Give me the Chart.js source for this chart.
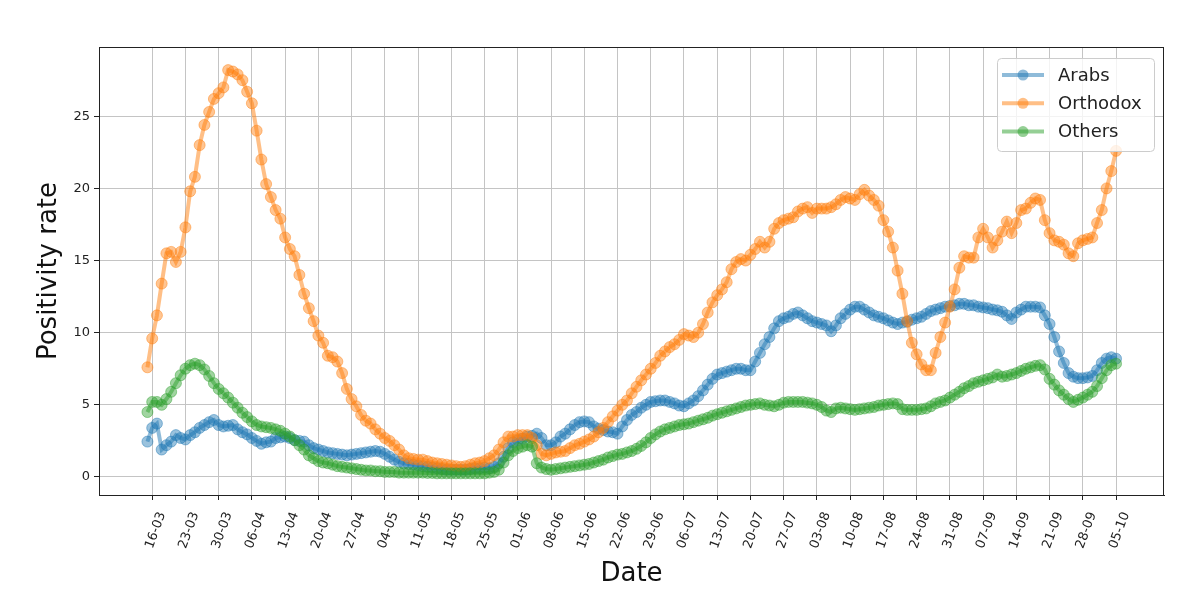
<!DOCTYPE html>
<html>
<head>
<meta charset="utf-8">
<title>Positivity rate</title>
<script src="https://cdn.jsdelivr.net/npm/chart.js@4.4.1/dist/chart.umd.min.js"></script>
<style>
  html, body { margin: 0; padding: 0; background: #fff; }
  #wrap { width: 1200px; height: 609px; position: relative; }
</style>
</head>
<body>
<div id="wrap"><canvas id="chart"></canvas></div>
<script>
// x tick labels, one every 7 days starting at 16-03 (day 0)
const tickLabels = ['16-03', '23-03', '30-03', '06-04', '13-04', '20-04', '27-04', '04-05', '11-05', '18-05',
  '25-05', '01-06', '08-06', '15-06', '22-06', '29-06', '06-07', '13-07', '20-07', '27-07',
  '03-08', '10-08', '17-08', '24-08', '31-08', '07-09', '14-09', '21-09', '28-09', '05-10'];
const yTicks = [0, 5, 10, 15, 20, 25];
const firstDay = -1; // series start on 15-03

// daily values, first value 15-03, then one row per week starting at the tick label
const arabs = [2.45,
  3.4, 3.7, 1.9, 2.2, 2.45, 2.9, 2.7,        // 16-03
  2.6, 2.9, 3.1, 3.4, 3.6, 3.8, 3.95,        // 23-03
  3.6, 3.5, 3.55, 3.6, 3.3, 3.1, 2.95,       // 30-03
  2.7, 2.5, 2.3, 2.4, 2.45, 2.7, 2.75,       // 06-04
  2.8, 2.7, 2.55, 2.5, 2.45, 2.2, 2.0,       // 13-04
  1.9, 1.8, 1.7, 1.65, 1.6, 1.55, 1.5,       // 20-04
  1.55, 1.6, 1.65, 1.7, 1.75, 1.8, 1.75,     // 27-04
  1.6, 1.4, 1.2, 1.05, 0.95, 0.9, 0.85,      // 04-05
  0.8, 0.75, 0.7, 0.65, 0.6, 0.55, 0.5,      // 11-05
  0.5, 0.5, 0.5, 0.5, 0.55, 0.6, 0.6,        // 18-05
  0.65, 0.6, 0.7, 0.95, 1.4, 2.0, 2.4,       // 25-05
  2.55, 2.65, 2.8, 2.85, 3.0, 2.7, 2.2,      // 01-06
  2.2, 2.4, 2.8, 3.0, 3.3, 3.6, 3.8,         // 08-06
  3.85, 3.8, 3.5, 3.35, 3.25, 3.15, 3.1,     // 15-06
  3.0, 3.5, 3.95, 4.3, 4.5, 4.8, 5.0,        // 22-06
  5.2, 5.25, 5.3, 5.3, 5.2, 5.1, 4.95,       // 29-06
  4.9, 5.1, 5.3, 5.6, 6.0, 6.4, 6.8,         // 06-07
  7.1, 7.2, 7.3, 7.4, 7.5, 7.5, 7.4,         // 13-07
  7.4, 8.0, 8.6, 9.2, 9.7, 10.3, 10.8,       // 20-07
  11.0, 11.1, 11.3, 11.4, 11.2, 11.0, 10.8,  // 27-07
  10.7, 10.6, 10.5, 10.1, 10.5, 11.0, 11.3,  // 03-08
  11.6, 11.8, 11.8, 11.6, 11.4, 11.2, 11.1,  // 10-08
  11.0, 10.85, 10.7, 10.6, 10.7, 10.75, 10.9, // 17-08
  11.0, 11.1, 11.3, 11.5, 11.6, 11.7, 11.8,  // 24-08
  11.85, 11.9, 12.0, 12.0, 11.9, 11.9, 11.8, // 31-08
  11.75, 11.7, 11.6, 11.55, 11.45, 11.2, 10.95, // 07-09
  11.4, 11.6, 11.8, 11.8, 11.8, 11.75, 11.2, // 14-09
  10.6, 9.7, 8.7, 7.9, 7.2, 6.95, 6.85,      // 21-09
  6.85, 6.9, 7.0, 7.4, 7.9, 8.2, 8.3,        // 28-09
  8.2];                                      // 05-10

const orthodox = [7.6,
  9.6, 11.2, 13.4, 15.5, 15.6, 14.9, 15.6,   // 16-03
  17.3, 19.8, 20.8, 23.0, 24.4, 25.3, 26.2,  // 23-03
  26.6, 27.0, 28.2, 28.1, 27.9, 27.5, 26.7,  // 30-03
  25.9, 24.0, 22.0, 20.3, 19.4, 18.5, 17.9,  // 06-04
  16.6, 15.8, 15.3, 14.0, 12.7, 11.7, 10.8,  // 13-04
  9.8, 9.3, 8.4, 8.3, 8.0, 7.2, 6.1,         // 20-04
  5.4, 4.9, 4.3, 3.9, 3.7, 3.3, 3.0,         // 27-04
  2.7, 2.5, 2.2, 1.9, 1.5, 1.3, 1.25,        // 04-05
  1.2, 1.2, 1.1, 1.0, 0.95, 0.9, 0.85,       // 11-05
  0.8, 0.75, 0.7, 0.75, 0.85, 0.95, 1.0,     // 18-05
  1.1, 1.3, 1.5, 1.9, 2.4, 2.8, 2.8,         // 25-05
  2.9, 2.9, 2.9, 2.7, 2.2, 1.6, 1.5,         // 01-06
  1.6, 1.7, 1.75, 1.8, 2.0, 2.2, 2.3,        // 08-06
  2.45, 2.6, 2.8, 3.1, 3.4, 3.8, 4.2,        // 15-06
  4.6, 5.0, 5.3, 5.8, 6.25, 6.7, 7.1,        // 22-06
  7.5, 7.9, 8.4, 8.7, 9.0, 9.2, 9.5,         // 29-06
  9.9, 9.8, 9.7, 10.0, 10.6, 11.4, 12.1,     // 06-07
  12.6, 13.0, 13.5, 14.4, 14.9, 15.1, 15.0,  // 13-07
  15.4, 15.8, 16.3, 15.9, 16.3, 17.2, 17.6,  // 20-07
  17.8, 17.9, 18.0, 18.4, 18.6, 18.7, 18.3,  // 27-07
  18.6, 18.6, 18.6, 18.7, 18.9, 19.2, 19.4,  // 03-08
  19.3, 19.2, 19.6, 19.9, 19.5, 19.2, 18.8,  // 10-08
  17.8, 17.0, 15.9, 14.3, 12.7, 10.8, 9.3,   // 17-08
  8.5, 7.8, 7.4, 7.4, 8.6, 9.7, 10.7,        // 24-08
  11.8, 13.0, 14.5, 15.3, 15.2, 15.2, 16.6,  // 31-08
  17.2, 16.6, 15.9, 16.4, 17.0, 17.7, 16.9,  // 07-09
  17.6, 18.5, 18.6, 19.0, 19.3, 19.2, 17.8,  // 14-09
  16.9, 16.4, 16.3, 16.1, 15.5, 15.3, 16.2,  // 21-09
  16.4, 16.5, 16.6, 17.6, 18.5, 20.0, 21.2,  // 28-09
  22.6];                                     // 05-10

const others = [4.5,
  5.2, 5.2, 5.0, 5.4, 5.9, 6.5, 7.05,        // 16-03
  7.5, 7.75, 7.85, 7.75, 7.45, 7.0, 6.5,     // 23-03
  6.1, 5.8, 5.5, 5.15, 4.8, 4.45, 4.15,      // 30-03
  3.85, 3.6, 3.5, 3.45, 3.4, 3.3, 3.2,       // 06-04
  3.0, 2.8, 2.55, 2.2, 1.9, 1.5, 1.3,        // 13-04
  1.1, 1.0, 0.95, 0.85, 0.75, 0.7, 0.65,     // 20-04
  0.6, 0.55, 0.5, 0.45, 0.45, 0.4, 0.4,      // 27-04
  0.35, 0.35, 0.35, 0.3, 0.3, 0.3, 0.3,      // 04-05
  0.3, 0.3, 0.28, 0.28, 0.25, 0.25, 0.25,    // 11-05
  0.25, 0.25, 0.25, 0.25, 0.25, 0.25, 0.25,  // 18-05
  0.25, 0.3, 0.35, 0.5, 1.0, 1.5, 1.8,       // 25-05
  2.0, 2.1, 2.2, 2.1, 0.95, 0.65, 0.55,      // 01-06
  0.5, 0.55, 0.6, 0.65, 0.7, 0.75, 0.8,      // 08-06
  0.85, 0.9, 1.0, 1.1, 1.2, 1.35, 1.45,      // 15-06
  1.55, 1.6, 1.7, 1.8, 1.95, 2.15, 2.4,      // 22-06
  2.7, 2.95, 3.15, 3.3, 3.4, 3.5, 3.6,       // 29-06
  3.65, 3.7, 3.8, 3.9, 4.0, 4.1, 4.25,       // 06-07
  4.35, 4.45, 4.55, 4.65, 4.75, 4.85, 4.95,  // 13-07
  5.0, 5.05, 5.1, 5.0, 4.95, 4.9, 5.0,       // 20-07
  5.15, 5.2, 5.2, 5.2, 5.2, 5.15, 5.1,       // 27-07
  5.0, 4.85, 4.6, 4.5, 4.75, 4.8, 4.75,      // 03-08
  4.7, 4.65, 4.7, 4.75, 4.8, 4.85, 4.95,     // 10-08
  5.0, 5.05, 5.1, 5.05, 4.7, 4.65, 4.65,     // 17-08
  4.65, 4.7, 4.75, 4.9, 5.1, 5.2, 5.3,       // 24-08
  5.5, 5.7, 5.9, 6.15, 6.3, 6.5, 6.6,        // 31-08
  6.7, 6.8, 6.9, 7.1, 6.95, 7.0, 7.1,        // 07-09
  7.2, 7.35, 7.5, 7.6, 7.7, 7.75, 7.45,      // 14-09
  6.8, 6.4, 6.0, 5.7, 5.4, 5.2, 5.35,        // 21-09
  5.5, 5.7, 5.9, 6.3, 6.85, 7.4, 7.75,       // 28-09
  7.85];                                     // 05-10

const tickDays = tickLabels.map((_, i) => i * 7);

const series = [
  { name: 'Arabs', values: arabs, rgb: '31,119,180' },
  { name: 'Orthodox', values: orthodox, rgb: '255,127,14' },
  { name: 'Others', values: others, rgb: '44,160,44' }
];

Chart.defaults.font.family = "'DejaVu Sans', sans-serif";
Chart.defaults.color = '#222';

// top/right spines like a matplotlib axes frame
const framePlugin = {
  id: 'frame',
  afterDatasetsDraw(chart) {
    const { ctx, chartArea: a } = chart;
    ctx.save();
    ctx.strokeStyle = '#222';
    ctx.lineWidth = 1;
    ctx.strokeRect(a.left + 0.5, a.top + 0.5, a.right - a.left - 1, a.bottom - a.top);
    ctx.restore();
  }
};

// legend box in the upper right corner, line + marker samples
const legendPlugin = {
  id: 'boxLegend',
  afterDraw(chart) {
    const { ctx, chartArea: a } = chart;
    const w = 157, h = 93;
    const x0 = a.right - 10 - w, y0 = a.top + 11;
    ctx.save();
    ctx.beginPath();
    ctx.roundRect(x0 + 0.5, y0 + 0.5, w, h, 4);
    ctx.fillStyle = 'rgba(255,255,255,0.8)';
    ctx.fill();
    ctx.strokeStyle = '#cccccc';
    ctx.lineWidth = 1;
    ctx.stroke();
    ctx.font = "18px 'DejaVu Sans'";
    ctx.textBaseline = 'middle';
    series.forEach((s, i) => {
      const y = y0 + 17 + i * 28.3;
      ctx.strokeStyle = `rgba(${s.rgb},0.5)`;
      ctx.lineWidth = 4;
      ctx.beginPath();
      ctx.moveTo(x0 + 5, y);
      ctx.lineTo(x0 + 47, y);
      ctx.stroke();
      ctx.beginPath();
      ctx.arc(x0 + 26, y, 5.5, 0, Math.PI * 2);
      ctx.fillStyle = `rgba(${s.rgb},0.5)`;
      ctx.fill();
      ctx.fillStyle = '#222';
      ctx.fillText(s.name, x0 + 61, y + 1);
    });
    ctx.restore();
  }
};

const datasets = series.map((s, k) => ({
  label: s.name,
  data: s.values.map((v, i) => ({ x: firstDay + i, y: v })),
  borderColor: `rgba(${s.rgb},0.5)`,
  backgroundColor: `rgba(${s.rgb},0.5)`,
  pointBackgroundColor: `rgba(${s.rgb},0.45)`,
  pointBorderColor: `rgba(${s.rgb},0.45)`,
  pointBorderWidth: 1,
  pointRadius: 5.5,
  borderWidth: 4,
  tension: 0,
  fill: false,
  order: series.length - k
}));

new Chart(document.getElementById('chart'), {
  type: 'line',
  data: { datasets },
  options: {
    responsive: true,
    maintainAspectRatio: false,
    animation: false,
    layout: { padding: { left: 0, right: 36, top: 47, bottom: 0 } },
    plugins: {
      legend: { display: false },
      tooltip: { enabled: false }
    },
    scales: {
      x: {
        type: 'linear',
        min: -11.2,
        max: 213.1,
        afterBuildTicks: scale => { scale.ticks = tickDays.map(v => ({ value: v })); },
        afterFit: scale => { scale.height = 114; },
        grid: { color: '#c4c4c4', lineWidth: 1, tickLength: 5, tickColor: '#222' },
        border: { color: '#222', width: 1 },
        ticks: {
          autoSkip: false,
          maxRotation: 70,
          minRotation: 70,
          labelOffset: 10,
          padding: 10,
          font: { size: 13 },
          callback: value => tickLabels[tickDays.indexOf(value)]
        },
        title: { display: true, text: 'Date', font: { size: 26 }, color: '#111', padding: { top: 0, bottom: 19 } }
      },
      y: {
        min: -1.25,
        max: 29.8,
        afterBuildTicks: scale => { scale.ticks = yTicks.map(v => ({ value: v })); },
        afterFit: scale => { scale.width = 99; },
        grid: { color: '#c4c4c4', lineWidth: 1, tickLength: 5, tickColor: '#222' },
        border: { color: '#222', width: 1 },
        ticks: { font: { size: 13 }, padding: 4 },
        title: { display: true, text: 'Positivity rate', font: { size: 26 }, color: '#111', padding: { top: 34, bottom: 0 } }
      }
    }
  },
  plugins: [framePlugin, legendPlugin]
});
</script>
</body>
</html>
